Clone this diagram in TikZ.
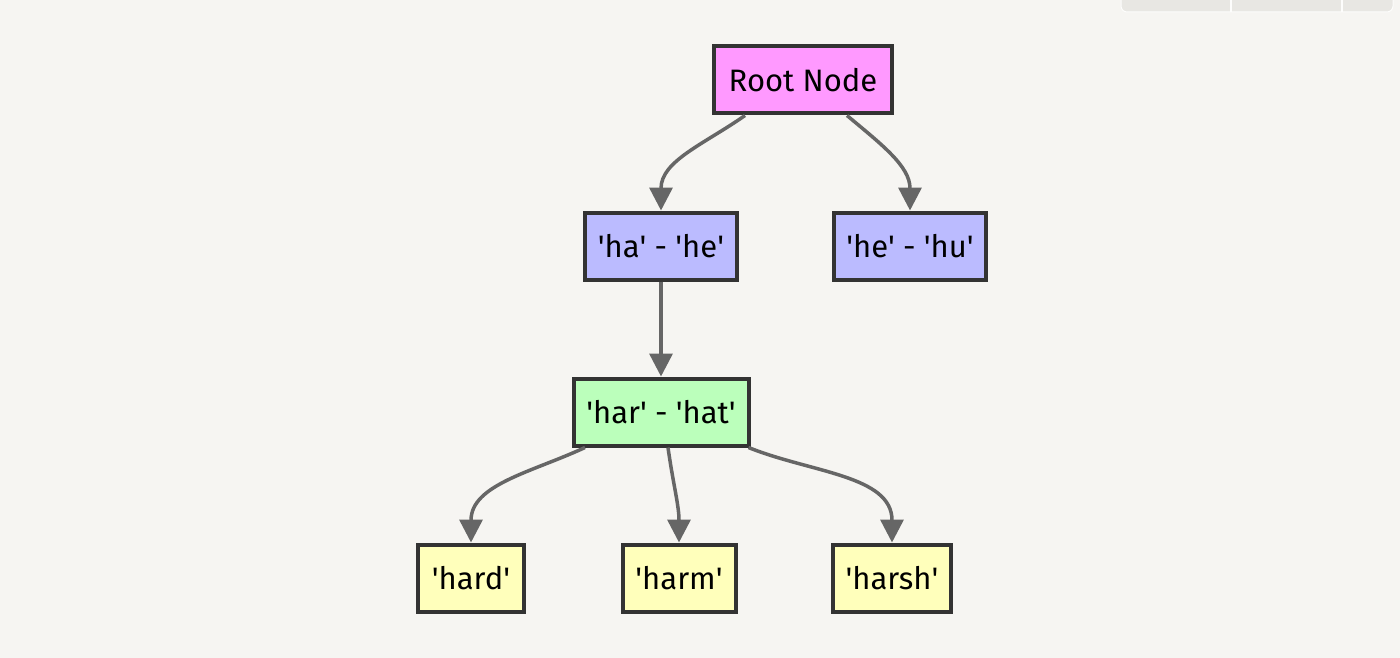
\documentclass[tikz,border=0pt]{standalone}
\usepackage{fontspec}
\setmainfont{Fira Sans}
\usetikzlibrary{arrows.meta}
\definecolor{bgcol}{HTML}{F6F5F2}
\definecolor{barcol}{HTML}{E8E7E3}
\definecolor{rootcol}{HTML}{FF99FF}
\definecolor{rangecol}{HTML}{BBBBFF}
\definecolor{subcol}{HTML}{BBFFBB}
\definecolor{leafcol}{HTML}{FFFFBB}
\definecolor{edgecol}{HTML}{666666}
\newcommand{\apos}{\textquotesingle}
\tikzset{
  box/.style={draw=black!80, line width=4pt, inner sep=0pt, minimum height=67pt,
    font=\fontsize{31}{36}\selectfont},
  rootbox/.style={box, fill=rootcol},
  rangebox/.style={box, fill=rangecol},
  subbox/.style={box, fill=subcol},
  leafbox/.style={box, fill=leafcol},
  edge/.style={draw=edgecol, line width=3.5pt, -{Triangle[length=23pt,width=23pt]}}
}
\begin{document}
\begin{tikzpicture}[x=1pt,y=-1pt]
			\useasboundingbox (0,0) rectangle (1400,658);
			\fill[bgcol] (0,0) rectangle (1400,658);
			% bar in the corner
			\draw[fill=barcol, draw=white!90!barcol, line width=1pt, rounded corners=6pt] (1121,-10) rectangle (1393,12);
			\draw[white!90!barcol, line width=1.5pt] (1231,0) -- (1231,12);
			\draw[white!90!barcol, line width=1.5pt] (1342,0) -- (1342,12);
			% nodes
			\node[rootbox, minimum width=178pt] (root) at (803,80) {Root Node};
			\node[rangebox, minimum width=152pt] (ha) at (661,246) {\apos ha\apos{} - \apos he\apos};
			\node[rangebox, minimum width=152pt] (hu) at (910,246) {\apos he\apos{} - \apos hu\apos};
			\node[subbox, minimum width=175pt] (har) at (661,412) {\apos har\apos{} - \apos hat\apos};
			\node[leafbox, minimum width=106pt] (hard) at (471,578) {\apos hard\apos};
			\node[leafbox, minimum width=113pt] (harm) at (679,578) {\apos harm\apos};
			\node[leafbox, minimum width=118pt] (harsh) at (892,578) {\apos harsh\apos};
			% edges
			\draw[edge] ([xshift=-58pt]root.south) to[out=-145,in=90] (ha.north);
			\draw[edge] ([xshift=44pt]root.south) to[out=-40,in=90] (hu.north);
			\draw[edge] (ha.south) -- (har.north);
			\draw[edge] ([xshift=-76pt]har.south) to[out=-155,in=90] (hard.north);
			\draw[edge] ([xshift=7pt]har.south) to[out=-82,in=90] (harm.north);
			\draw[edge] ([xshift=-2pt]har.south east) to[out=-22,in=90] (harsh.north);
		\end{tikzpicture}
\end{document}
